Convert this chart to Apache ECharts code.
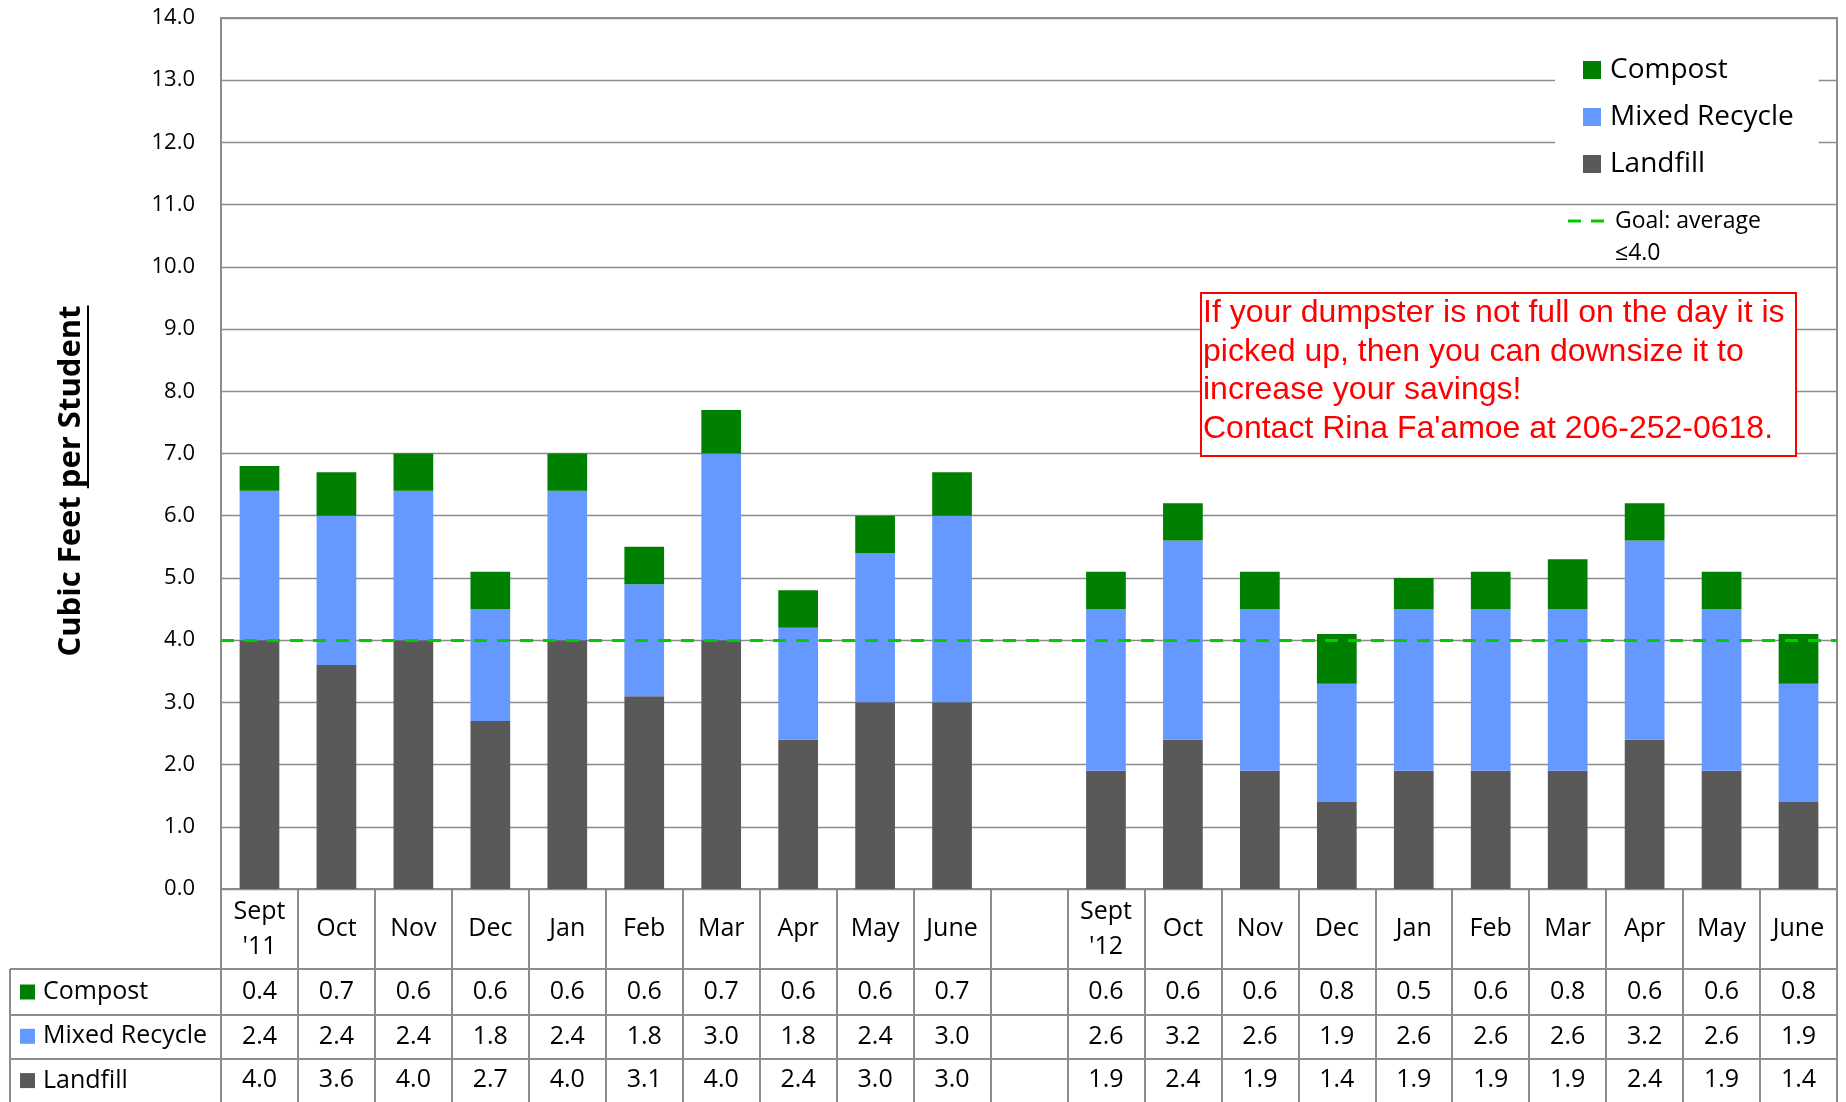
<!DOCTYPE html>
<html><head><meta charset="utf-8">
<script src="https://cdn.jsdelivr.net/npm/echarts@6/dist/echarts.min.js"></script>
<style>html,body{margin:0;padding:0;background:#fff}#c{width:1846px;height:1102px}</style>
</head><body><div id="c"></div>
<script>
// ---- data ----
const categories = ["Sept\n'11","Oct","Nov","Dec","Jan","Feb","Mar","Apr","May","June","","Sept\n'12","Oct","Nov","Dec","Jan","Feb","Mar","Apr","May","June"];
const compost      = [0.4,0.7,0.6,0.6,0.6,0.6,0.7,0.6,0.6,0.7,null,0.6,0.6,0.6,0.8,0.5,0.6,0.8,0.6,0.6,0.8];
const mixedRecycle = [2.4,2.4,2.4,1.8,2.4,1.8,3.0,1.8,2.4,3.0,null,2.6,3.2,2.6,1.9,2.6,2.6,2.6,3.2,2.6,1.9];
const landfill     = [4.0,3.6,4.0,2.7,4.0,3.1,4.0,2.4,3.0,3.0,null,1.9,2.4,1.9,1.4,1.9,1.9,1.9,2.4,1.9,1.4];
const goalValue = 4.0;
const goalName = 'Goal: average\n\u22644.0';
const seriesNames = ['Compost','Mixed Recycle','Landfill'];
const yMin = 0, yMax = 14, yInterval = 1;
const yTitleMain = 'Cubic Feet ';
const yTitleUnderlined = 'per Student';
const noteLines = [
  'If your dumpster is not full on the day it is',
  'picked up, then you can downsize it to',
  'increase your savings!',
  "Contact Rina Fa'amoe at 206-252-0618."
];

// ---- layout ----
const W = 1846, H = 1102;
const gLeft = 221, gRight = 9, gTop = 18, gBottom = 213;
const plotRight = W - gRight;        // 1837
const rowLines = [969, 1015, 1059];
const tableLeft = 10;
const lineCol = '#8c8c8c';
const fmt = v => (v == null ? '' : v.toFixed(1));

const titleFont = 'bold 31px "Open Sans"';
const ctx = document.createElement('canvas').getContext('2d');
ctx.font = titleFont;
const fullW = ctx.measureText(yTitleMain + yTitleUnderlined).width;
const preW = ctx.measureText(yTitleMain).width;

const chart = echarts.init(document.getElementById('c'), null, {renderer: 'canvas'});

function rowAxis(values, margin) {
  return {
    type: 'category', data: categories, gridIndex: 0, position: 'bottom',
    axisLine: {show: false}, axisTick: {show: false}, splitLine: {show: false},
    axisLabel: {
      interval: 0, margin: margin, verticalAlign: 'middle',
      fontFamily: 'Open Sans', fontSize: 25, color: '#000',
      formatter: (v, i) => fmt(values[i])
    }
  };
}

const tableLines = rowLines.map(y => ({
  type: 'line', silent: true,
  shape: {x1: tableLeft, y1: y, x2: plotRight, y2: y},
  style: {stroke: lineCol, lineWidth: 2}
}));
tableLines.push({
  type: 'line', silent: true,
  shape: {x1: tableLeft, y1: rowLines[0], x2: tableLeft, y2: H},
  style: {stroke: lineCol, lineWidth: 2}
});

const option = {
  backgroundColor: '#fff',
  animation: false,
  title: {
    text: noteLines.join('\n'),
    left: 1201, top: 293,
    padding: [1, 12, 8, 2],
    backgroundColor: '#fff',
    borderColor: '#ff0000', borderWidth: 2,
    textStyle: {fontFamily: '"Liberation Sans", Arial', fontSize: 32, fontWeight: 'normal', color: '#ff0000', lineHeight: 38.5}
  },
  grid: {
    left: gLeft, right: gRight, top: gTop, bottom: gBottom,
    show: true, borderColor: lineCol, borderWidth: 2, backgroundColor: 'transparent',
    containLabel: false, outerBoundsMode: 'none'
  },
  legend: [
    {
      data: seriesNames, orient: 'vertical', left: 1555, top: 40,
      padding: [13, 25, 13, 28], backgroundColor: '#fff',
      itemWidth: 18, itemHeight: 18, itemGap: 13, icon: 'rect', selectedMode: false,
      textStyle: {fontFamily: 'Open Sans', fontSize: 28, lineHeight: 34, color: '#000', padding: [0, 0, 0, 4]}
    },
    {
      data: seriesNames, orient: 'vertical', left: 20, top: 977, padding: 0,
      itemWidth: 15, itemHeight: 15, itemGap: 14.3, icon: 'rect', selectedMode: false,
      textStyle: {fontFamily: 'Open Sans', fontSize: 25, lineHeight: 30, color: '#000', padding: [0, 0, 0, 3]}
    },
    {
      data: [goalName], orient: 'vertical', left: 1568, top: 173, padding: 0,
      itemWidth: 36, itemHeight: 3, selectedMode: false,
      icon: 'path://M0,0H13V3H0Z M23,0H36V3H23Z',
      itemStyle: {color: '#00cc00', borderWidth: 0},
      formatter: n => ' \n' + n,
      textStyle: {fontFamily: 'Open Sans', fontSize: 23, lineHeight: 32, color: '#000', padding: [0, 0, 0, 6]}
    }
  ],
  xAxis: [
    {
      type: 'category', data: categories, gridIndex: 0, position: 'bottom', boundaryGap: true,
      axisLine: {show: true, lineStyle: {color: lineCol, width: 2}},
      axisTick: {show: true, interval: 0, length: 213, lineStyle: {color: lineCol, width: 2}},
      splitLine: {show: false},
      axisLabel: {interval: 0, margin: 40, verticalAlign: 'middle', fontFamily: 'Open Sans', fontSize: 25, lineHeight: 35, color: '#000'}
    },
    rowAxis(compost, 103),
    rowAxis(mixedRecycle, 148),
    rowAxis(landfill, 191)
  ],
  yAxis: {
    type: 'value', min: yMin, max: yMax, interval: yInterval,
    axisLine: {show: true, lineStyle: {color: lineCol, width: 2}},
    axisTick: {show: false},
    splitLine: {show: true, lineStyle: {color: lineCol, width: 1.3}},
    axisLabel: {margin: 26, fontFamily: 'Open Sans', fontSize: 22, color: '#000', formatter: v => v.toFixed(1)}
  },
  series: [
    {name: 'Landfill', type: 'bar', stack: 'total', data: landfill, barCategoryGap: '48.4%',
     itemStyle: {color: '#595959'}, emphasis: {disabled: true}},
    {name: 'Mixed Recycle', type: 'bar', stack: 'total', data: mixedRecycle,
     itemStyle: {color: '#6699ff'}, emphasis: {disabled: true}},
    {name: 'Compost', type: 'bar', stack: 'total', data: compost,
     itemStyle: {color: '#008000'}, emphasis: {disabled: true}},
    {name: goalName, type: 'line', data: [], symbol: 'none',
     itemStyle: {color: '#00cc00'},
     lineStyle: {color: '#00cc00', width: 3, type: [13, 10]},
     markLine: {
       silent: true, symbol: ['none', 'none'], label: {show: false},
       lineStyle: {color: '#00cc00', width: 3, type: [13, 10]},
       emphasis: {disabled: true},
       data: [{yAxis: goalValue}]
     }}
  ],
  graphic: tableLines.concat([
    {
      type: 'group', x: 71, y: 481, rotation: Math.PI / 2, silent: true,
      children: [
        {type: 'text', x: 0, y: 0, style: {text: yTitleMain + yTitleUnderlined, font: titleFont, fill: '#000', align: 'center', verticalAlign: 'middle'}},
        {type: 'line', shape: {x1: -fullW / 2 + preW, y1: 17, x2: fullW / 2, y2: 17}, style: {stroke: '#000', lineWidth: 2}}
      ]
    }
  ])
};
chart.setOption(option);
</script>
</body></html>
